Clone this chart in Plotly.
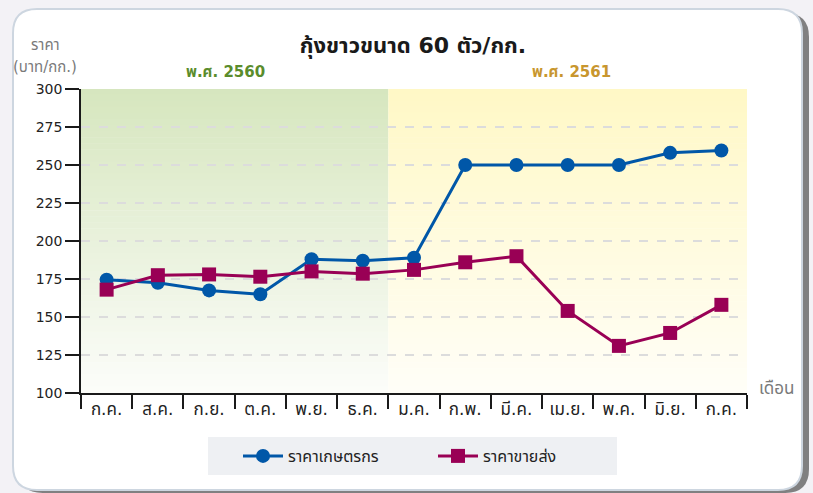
import plotly.graph_objects as go

# ---- data ----
months = ["ก.ค.", "ส.ค.", "ก.ย.", "ต.ค.", "พ.ย.", "ธ.ค.", "ม.ค.", "ก.พ.", "มี.ค.", "เม.ย.", "พ.ค.", "มิ.ย.", "ก.ค."]
farmer_price = [174.5, 172.5, 167.5, 165, 188, 187, 189, 250, 250, 250, 250, 258, 259.5]
wholesale_price = [168, 177.5, 178, 176.5, 180, 178.5, 181, 186, 190, 154, 131, 139.5, 158]
series_names = ["ราคาเกษตรกร", "ราคาขายส่ง"]
y_ticks = [100, 125, 150, 175, 200, 225, 250, 275, 300]
year_labels = ["พ.ศ. 2560", "พ.ศ. 2561"]
n_2560 = 6  # months belonging to 2560

W, H = 813, 493
L, R, T, B = 81, 66, 89, 100
PW, PH = W - L - R, H - T - B

FONT = "DejaVu Sans, Noto Sans Thai, Noto Sans, sans-serif"

def px2paper(px, py):
    return (px - L) / PW, (H - B - py) / PH

def rrect_path(x0, y0, x1, y1, r):
    pts = [
        ("M", [(x0 + r, y0)]), ("L", [(x1 - r, y0)]), ("Q", [(x1, y0), (x1, y0 + r)]),
        ("L", [(x1, y1 - r)]), ("Q", [(x1, y1), (x1 - r, y1)]), ("L", [(x0 + r, y1)]),
        ("Q", [(x0, y1), (x0, y1 - r)]), ("L", [(x0, y0 + r)]), ("Q", [(x0, y0), (x0 + r, y0)]),
    ]
    s = ""
    for cmd, ps in pts:
        s += cmd + " " + " ".join("%.5f,%.5f" % px2paper(*p) for p in ps) + " "
    return s + "Z"

x = list(range(len(months)))

fig = go.Figure()
fig.add_trace(go.Scatter(
    x=x, y=farmer_price, name=series_names[0], mode="lines+markers",
    line=dict(color="#0057a8", width=3),
    marker=dict(symbol="circle", size=14, color="#0057a8"),
))
fig.add_trace(go.Scatter(
    x=x, y=wholesale_price, name=series_names[1], mode="lines+markers",
    line=dict(color="#990055", width=3),
    marker=dict(symbol="square", size=14, color="#990055"),
))

shapes = []
# card shadow and card
shapes.append(dict(type="path", xref="paper", yref="paper", layer="below",
                   path=rrect_path(19, 13, 809, 493, 24),
                   fillcolor="rgba(90,90,90,0.75)", line=dict(width=0)))
shapes.append(dict(type="path", xref="paper", yref="paper", layer="below",
                   path=rrect_path(13, 9, 802, 490, 24),
                   fillcolor="white", line=dict(color="#cdd6e0", width=2)))
# legend box
lx0, ly0 = px2paper(208, 475)
lx1, ly1 = px2paper(617, 437)
shapes.append(dict(type="rect", xref="paper", yref="paper", layer="below",
                   x0=lx0, x1=lx1, y0=ly0, y1=ly1, fillcolor="#eef0f3", line=dict(width=0)))

# gradient backgrounds
def blend(c_top, c_bot, t):
    return "rgb(%d,%d,%d)" % tuple(round(a + (b - a) * t) for a, b in zip(c_top, c_bot))

NB = 50
ymin, ymax = y_ticks[0], y_ticks[-1]
regions = [(-0.5, n_2560 - 0.5, (214, 230, 190), (252, 253, 250)),
           (n_2560 - 0.5, len(months) - 0.5, (255, 248, 198), (255, 254, 247))]
for xa, xb, ct, cb in regions:
    for i in range(NB):
        y0 = ymax - (ymax - ymin) * i / NB
        y1 = ymax - (ymax - ymin) * (i + 1) / NB
        shapes.append(dict(type="rect", xref="x", yref="y", layer="below",
                           x0=xa, x1=xb, y0=y1, y1=y0 + 0.3,
                           fillcolor=blend(ct, cb, (i + 0.5) / NB), line=dict(width=0)))

def ann(text, px, py, size, color):
    ax, ay = px2paper(px, py)
    return dict(text=text, x=ax, y=ay, xref="paper", yref="paper", xanchor="center",
                yanchor="middle", showarrow=False, font=dict(size=size, color=color, family=FONT))

annotations = [
    ann("ราคา", 45, 45, 15, "#7a7a7a"),
    ann("(บาท/กก.)", 45, 67, 15, "#7a7a7a"),
    ann("<b>%s</b>" % year_labels[0], 225, 72, 15, "#5a8c2c"),
    ann("<b>%s</b>" % year_labels[1], 571, 72, 15, "#c8962e"),
    ann("เดือน", 777, 388, 17, "#7a7a7a"),
]

fig.update_layout(
    width=W, height=H,
    margin=dict(l=L, r=R, t=T, b=B, autoexpand=False),
    paper_bgcolor="#f3f2f6",
    plot_bgcolor="rgba(0,0,0,0)",
    font=dict(family=FONT, color="#222222", size=14),
    title=dict(text="<b>กุ้งขาวขนาด 60 ตัว/กก.</b>", x=413 / W, xanchor="center",
               y=1 - 45 / H, yanchor="middle", font=dict(size=22, color="#1a1a1a", family=FONT)),
    shapes=shapes,
    annotations=annotations,
    showlegend=True,
    legend=dict(orientation="h", x=px2paper(433, 0)[0], xanchor="center",
                y=px2paper(0, 456)[1], yanchor="middle", bgcolor="rgba(0,0,0,0)",
                font=dict(size=16, color="#222222", family=FONT),
                entrywidth=140, itemwidth=40, borderwidth=0),
    xaxis=dict(
        range=[-0.5, len(months) - 0.5], tickmode="array", tickvals=x, ticktext=months,
        ticks="", showgrid=False, zeroline=False,
        showline=True, linecolor="#1a1a1a", linewidth=1.5,
        tickfont=dict(size=17, color="#222222"),
        minor=dict(tickmode="array", tickvals=[i - 0.5 for i in range(len(months) + 1)],
                   ticks="outside", ticklen=14, tickwidth=1.5, tickcolor="#1a1a1a", showgrid=False),
        automargin=False,
    ),
    yaxis=dict(
        range=[ymin, ymax], tickmode="array", tickvals=y_ticks,
        ticks="outside", ticklen=14, tickwidth=1.5, tickcolor="#1a1a1a",
        showline=True, linecolor="#1a1a1a", linewidth=1.5,
        showgrid=True, gridcolor="#dcdcdc", griddash="dash", gridwidth=1.5,
        zeroline=False, tickfont=dict(size=14, color="#222222"),
        automargin=False,
    ),
)

fig.write_html("out.html", config={"displayModeBar": False},
               post_script="document.body.style.margin='0';document.body.style.overflow='hidden';")
